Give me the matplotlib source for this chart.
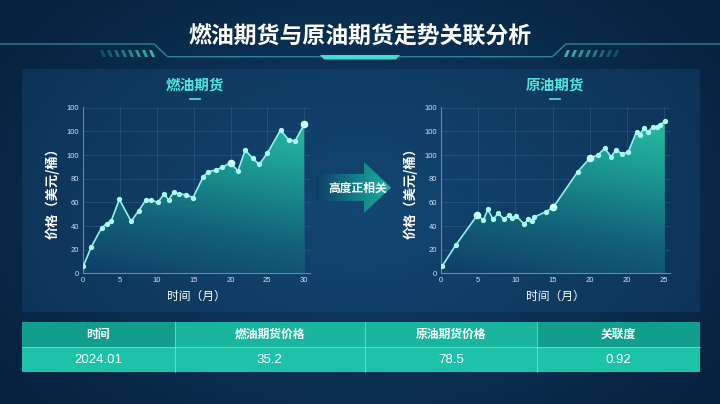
import numpy as np
import matplotlib
matplotlib.use('Agg')
import matplotlib.pyplot as plt
from matplotlib.patches import Polygon, Rectangle
from matplotlib.colors import LinearSegmentedColormap, to_rgb

plt.rcParams['font.family'] = ['Noto Sans CJK SC', 'DejaVu Sans']
plt.rcParams['axes.unicode_minus'] = False

# ---------------- data ----------------
title = '燃油期货与原油期货走势关联分析'
fuel_title = '燃油期货'
crude_title = '原油期货'
x_label = '时间（月）'
y_label = '价格（美元/桶）'
arrow_text = '高度正相关'

fuel_x = [0, 1.1, 2.5, 3.2, 3.8, 4.9, 6.5, 7.5, 8.5, 9.2, 10.1, 11.0, 11.6, 12.3, 13.0,
          14.0, 14.9, 16.3, 17.0, 18.0, 18.9, 20.0, 21.0, 22.0, 23.0, 23.9, 25.0, 26.8,
          27.9, 28.8, 30.0]
fuel_y = [6, 22.5, 38.6, 42, 44.5, 62.5, 44, 52.7, 62, 62, 60, 67, 62, 69, 67,
          66.5, 64, 81.7, 86, 87.4, 89.7, 93.6, 86.5, 104.3, 97.3, 92.2, 101.5, 121.2,
          112.8, 112.2, 126]

crude_x = [0.2, 2.0, 4.9, 5.7, 6.3, 7.0, 7.7, 8.5, 9.1, 9.6, 10.1, 11.2, 11.7, 12.2,
           12.5, 14.1, 15.1, 18.4, 20.0, 21.1, 22.0, 22.9, 23.5, 24.4, 25.2, 26.3,
           26.7, 27.3, 27.9, 28.5, 29.1, 29.5, 30.1]
crude_y = [6.5, 24, 49.3, 45, 54, 45.7, 50.7, 45.7, 49.3, 46.5, 48.5, 41.7, 45.7, 44.2,
           47.4, 52.1, 55.8, 86, 97.3, 100, 105.7, 98.6, 104.3, 100.9, 102.9, 119.8,
           117, 122.7, 119.8, 124, 124, 125.5, 128.8]

y_ticks = [0, 20, 40, 60, 80, 100, 120, 140]
y_tick_labels = ['0', '20', '40', '60', '80', '100', '100', '100']
x_ticks = [0, 5, 10, 15, 20, 25, 30]
fuel_x_tick_labels = ['0', '5', '10', '15', '20', '25', '30']
crude_x_tick_labels = ['0', '5', '10', '15', '20', '20', '25']

table_columns = ['时间', '燃油期货价格', '原油期货价格', '关联度']
table_row = ['2024.01', '35.2', '78.5', '0.92']

# ---------------- figure ----------------
W, H = 720, 404
fig = plt.figure(figsize=(7.2, 4.04), dpi=100)

bg = fig.add_axes([0, 0, 1, 1])
bg.set_xlim(0, W)
bg.set_ylim(H, 0)
bg.axis('off')

# background gradient
yy, xx = np.mgrid[0:H, 0:W]
r = np.sqrt(((xx - 360) / 430.0) ** 2 + ((yy - 210) / 300.0) ** 2)
t = np.clip(1 - r, 0, 1)[..., None]
dark = np.array(to_rgb('#07223f'))
light = np.array(to_rgb('#10406a'))
img = dark + t * (light - dark)
bg.imshow(img, extent=[0, W, H, 0], aspect='auto', zorder=0)

# panel
bg.add_patch(Rectangle((22, 69), 678, 243, facecolor='#1a5584', alpha=0.3,
                       edgecolor='none', zorder=1))

# title decorations
deco = [(0, 44), (154, 44), (167.6, 56.7), (552.4, 56.7), (566, 44), (720, 44)]
bg.plot([p[0] for p in deco], [p[1] for p in deco], color='#2f8ea3', lw=1.0,
        alpha=0.9, zorder=2)
bg.add_patch(Polygon([(320, 55), (400, 55), (396, 59.5), (324, 59.5)],
                     closed=True, facecolor='#3fe0d0', edgecolor='none', zorder=3))
for i in range(8):
    x0 = 100 + i * 7
    a = 0.25 + 0.09 * i
    bg.add_patch(Polygon([(x0, 50), (x0 + 3, 50), (x0 + 6, 57), (x0 + 3, 57)],
                         closed=True, facecolor='#3fc6c0', alpha=a,
                         edgecolor='none', zorder=2))
    x1 = 564 + i * 7
    a2 = 0.88 - 0.09 * i
    bg.add_patch(Polygon([(x1 + 3, 50), (x1 + 6, 50), (x1 + 3, 57), (x1, 57)],
                         closed=True, facecolor='#3fc6c0', alpha=a2,
                         edgecolor='none', zorder=2))

bg.text(360, 37, title, ha='center', va='center', fontsize=16.5,
        fontweight='bold', color='white', zorder=4)

# subtitles
for cx, txt in [(195, fuel_title), (554.5, crude_title)]:
    bg.text(cx, 85, txt, ha='center', va='center', fontsize=10.5,
            fontweight='bold', color='#4fe6dc', zorder=4)
    bg.plot([cx - 5, cx + 5], [99, 99], color='#4fe6dc', lw=1.2, zorder=4)

# arrow with gradient
arrow_pts = [(316, 174), (364, 174), (364, 162), (391, 187.5), (364, 213),
             (364, 201), (316, 201)]
arrow = Polygon(arrow_pts, closed=True, facecolor='none', edgecolor='none',
                zorder=3)
bg.add_patch(arrow)
acmap = LinearSegmentedColormap.from_list('arr', ['#0f3d66', '#137a84', '#1fb2a2'])
grad = np.linspace(0, 1, 256)[None, :]
aim = bg.imshow(grad, extent=[316, 391, 213, 162], aspect='auto', cmap=acmap,
                zorder=3)
aim.set_clip_path(arrow)
bg.text(358, 188, arrow_text, ha='center', va='center', fontsize=8.5,
        fontweight='bold', color='white', zorder=5)

# table
col_edges = [22, 174.5, 365, 537, 700]
head_colors = ['#129e8c', '#1ab59e', '#1ab59e', '#129e8c']
for i in range(4):
    x0, x1 = col_edges[i], col_edges[i + 1]
    bg.add_patch(Rectangle((x0, 322), x1 - x0, 25, facecolor=head_colors[i],
                           edgecolor='none', zorder=3))
    bg.add_patch(Rectangle((x0, 347), x1 - x0, 25, facecolor='#1dc3a8',
                           edgecolor='none', zorder=3))
    bg.text((x0 + x1) / 2, 334.5, table_columns[i], ha='center', va='center',
            fontsize=8.5, fontweight='bold', color='white', zorder=5)
    bg.text((x0 + x1) / 2, 360, table_row[i], ha='center', va='center',
            fontsize=9.5, color='white', family=['Liberation Sans', 'DejaVu Sans'],
            zorder=5)
for xe in col_edges[1:-1]:
    bg.plot([xe, xe], [322, 372], color='#8af0e0', lw=0.6, alpha=0.7, zorder=4)
bg.plot([22, 700], [347, 347], color='#8af0e0', lw=0.6, alpha=0.7, zorder=4)

# ---------------- charts ----------------
fill_cmap = LinearSegmentedColormap.from_list(
    'fill', ['#103f68', '#13647a', '#1c9a92', '#2cc4a8'])


def draw_chart(rect, xs, ys, xlabels, big_idx):
    ax = fig.add_axes(rect)
    ax.set_facecolor('none')
    ax.set_xlim(0, 30.8)
    ax.set_ylim(0, 141)
    # gradient fill
    verts = [(xs[0], 0)] + list(zip(xs, ys)) + [(xs[-1], 0)]
    poly = Polygon(verts, closed=True, facecolor='none', edgecolor='none')
    ax.add_patch(poly)
    gy, gx = np.mgrid[0:200, 0:200]
    g = 0.8 * (gy / 199.0) + 0.2 * (gx / 199.0)
    im = ax.imshow(g, extent=[0, 30.8, 0, 141], origin='lower', aspect='auto',
                   cmap=fill_cmap, vmin=0, vmax=1, zorder=2)
    im.set_clip_path(poly)
    ax.plot(xs, ys, color='#8ff3ea', lw=1.2, zorder=3)
    ax.plot(xs, ys, 'o', color='#a8fbf2', ms=2.8, zorder=4)
    ax.plot([xs[i] for i in big_idx], [ys[i] for i in big_idx], 'o',
            color='#c8fff8', ms=4.5, zorder=5)
    ax.set_xticks(x_ticks)
    ax.set_xticklabels(xlabels)
    ax.set_yticks(y_ticks)
    ax.set_yticklabels(y_tick_labels)
    ax.tick_params(length=0, labelsize=5.5, colors='#d5e3f0', pad=3)
    for lab in ax.get_xticklabels() + ax.get_yticklabels():
        lab.set_family(['Liberation Sans', 'DejaVu Sans'])
    ax.grid(True, color='#3a6b92', lw=0.5, alpha=0.6, zorder=1)
    for s in ['top', 'right']:
        ax.spines[s].set_visible(False)
    for s in ['left', 'bottom']:
        ax.spines[s].set_color('#5a8cb0')
        ax.spines[s].set_linewidth(0.8)
    ax.set_xlabel(x_label, fontsize=8.5, color='white', labelpad=4)
    ax.set_ylabel(y_label, fontsize=9.5, color='white', fontweight='bold',
                  labelpad=5)
    return ax


bottom = (H - 273.3) / H
height = (273.3 - 106.6) / H
ax1 = draw_chart([83.3 / W, bottom, (310 - 83.3) / W, height], fuel_x, fuel_y,
                 fuel_x_tick_labels, [21, 30])
ax2 = draw_chart([441 / W, bottom, (670 - 441) / W, height], crude_x, crude_y,
                 crude_x_tick_labels, [2, 16, 18])

fig.savefig('out.png', dpi=100)
